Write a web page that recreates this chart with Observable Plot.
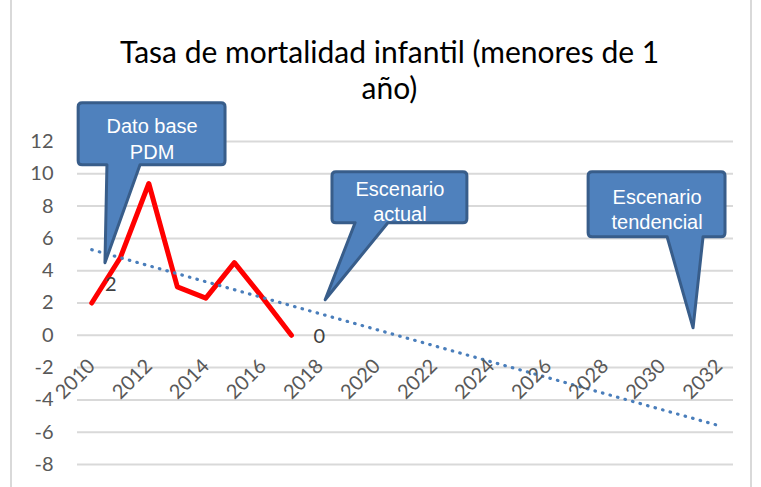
<!DOCTYPE html>
<html><head><meta charset="utf-8">
<script src="https://cdn.jsdelivr.net/npm/d3@7"></script>
<script src="https://cdn.jsdelivr.net/npm/@observablehq/plot@0.6"></script>
<style>
body{margin:0;background:#fff;}
#wrap{position:relative;width:761px;height:487px;overflow:hidden;}
#border{position:absolute;left:10px;top:-2px;width:738px;height:500px;border-left:2px solid #d9d9d9;border-right:2px solid #d9d9d9;pointer-events:none;}
#wrap svg{position:absolute;left:0;top:0;}
</style></head><body>
<div id="wrap"><div id="border"></div></div>
<script>
// Series: infant mortality rate (observed)
const years = [2010, 2011, 2012, 2013, 2014, 2015, 2016, 2017];
const values = [2, 4.8, 9.4, 3, 2.3, 4.5, 2.3, 0];
// Linear trend line (endpoints)
const trendYears = [2010, 2032];
const trendValues = [5.3, -5.6];
// Axis ticks
const tickYears = [2010, 2012, 2014, 2016, 2018, 2020, 2022, 2024, 2026, 2028, 2030, 2032];
const yTicks = [-8, -6, -4, -2, 0, 2, 4, 6, 8, 10, 12];
// Data labels
const labelYears = [2010, 2017];
const labelValues = [2, 0];
const labelTexts = ["2", "0"];
// Callouts (in data units)
const calloutTexts = ["Dato base\nPDM", "Escenario\nactual", "Escenario\ntendencial"];
const calloutTipX = [2010.48, 2018.2, 2031.1];
const calloutTipY = [4.46, 2.17, 0.43];
const calloutX1 = [2009.54, 2018.44, 2027.42];
const calloutX2 = [2014.69, 2023.17, 2032.22];
const calloutTop = [14.37, 10.09, 10.09];
const calloutBottom = [10.53, 6.94, 6.07];
const calloutBase1 = [2010.55, 2019.25, 2030.19];
const calloutBase2 = [2011.71, 2020.4, 2031.45];
const titleText = "Tasa de mortalidad infantil (menores de 1\naño)";

const series = years.map((y, i) => ({year: y, value: values[i]}));
const trend = trendYears.map((y, i) => ({year: y, value: trendValues[i]}));
const labels = labelYears.map((y, i) => ({year: y, value: labelValues[i], text: labelTexts[i]}));
const callouts = calloutTexts.map((t, i) => ({
  text: t, tipX: calloutTipX[i], tipY: calloutTipY[i], x1: calloutX1[i], x2: calloutX2[i],
  top: calloutTop[i], bottom: calloutBottom[i], b1: calloutBase1[i], b2: calloutBase2[i],
  cx: (calloutX1[i] + calloutX2[i]) / 2
}));

function calloutShapes(index, scales) {
  const {x, y} = scales;
  const g = d3.create("svg:g");
  for (const c of callouts) {
    const x1 = x(c.x1), x2 = x(c.x2), y1 = y(c.top), y2 = y(c.bottom);
    const b1 = x(c.b1), b2 = x(c.b2), tx = x(c.tipX), ty = y(c.tipY);
    const r = 4;
    const p = d3.path();
    p.moveTo(x1 + r, y1); p.lineTo(x2 - r, y1); p.quadraticCurveTo(x2, y1, x2, y1 + r);
    p.lineTo(x2, y2 - r); p.quadraticCurveTo(x2, y2, x2 - r, y2);
    p.lineTo(b2, y2); p.lineTo(tx, ty); p.lineTo(b1, y2);
    p.lineTo(x1 + r, y2); p.quadraticCurveTo(x1, y2, x1, y2 - r);
    p.lineTo(x1, y1 + r); p.quadraticCurveTo(x1, y1, x1 + r, y1); p.closePath();
    g.append("path").attr("d", p.toString()).attr("fill", "#4F81BD")
      .attr("stroke", "#385D8A").attr("stroke-width", 3).attr("stroke-linejoin", "round");
  }
  return g.node();
}

const textDy = [11.8, 5.8, 13.8];
const textLH = [1.3, 1.25, 1.25];

const chart = Plot.plot({
  width: 761, height: 487,
  marginLeft: 77, marginRight: 28, marginTop: 141, marginBottom: 23,
  style: {fontFamily: "Lato", fontSize: "20px", color: "#595959", background: "transparent", overflow: "visible"},
  x: {domain: [2009.5, 2032.5], axis: null},
  y: {domain: [-8, 12], ticks: yTicks, tickFormat: d => String(d), tickSize: 0, tickPadding: 24, label: null},
  marks: [
    Plot.ruleY(yTicks, {stroke: "#d9d9d9", strokeWidth: 2}),
    Plot.line(series, {x: "year", y: "value", stroke: "#FF0000", strokeWidth: 5, strokeLinejoin: "round", strokeLinecap: "round"}),
    Plot.line(trend, {x: "year", y: "value", stroke: "#4A7EBB", strokeWidth: 3.2, strokeDasharray: "0.5 7.3", strokeLinecap: "round"}),
    Plot.text([labels[0]], {x: "year", y: "value", text: "text", dx: 19, dy: -18.5, fill: "#404040", fontSize: 20}),
    Plot.text([labels[1]], {x: "year", y: "value", text: "text", dx: 28, dy: 1, fill: "#404040", fontSize: 20}),
    Plot.text(tickYears, {x: d => d, y: 0, text: d => String(d), rotate: -45, textAnchor: "end", dy: 27.5, fill: "#595959", fontSize: 20}),
    calloutShapes,
    ...callouts.map((c, i) => Plot.text([c], {x: "cx", y: "top", text: "text", lineAnchor: "top", dy: textDy[i], lineHeight: textLH[i], fill: "#ffffff", fontSize: 20, fontFamily: "Liberation Sans, Arial, sans-serif"})),
    Plot.text([titleText], {frameAnchor: "top", text: d => d, dx: -16, dy: -43, lineAnchor: "bottom", lineHeight: 1.2, fontSize: 30, fontFamily: "Lato", fill: "#000000"})
  ]
});
document.getElementById("wrap").appendChild(chart);
</script>
</body></html>
